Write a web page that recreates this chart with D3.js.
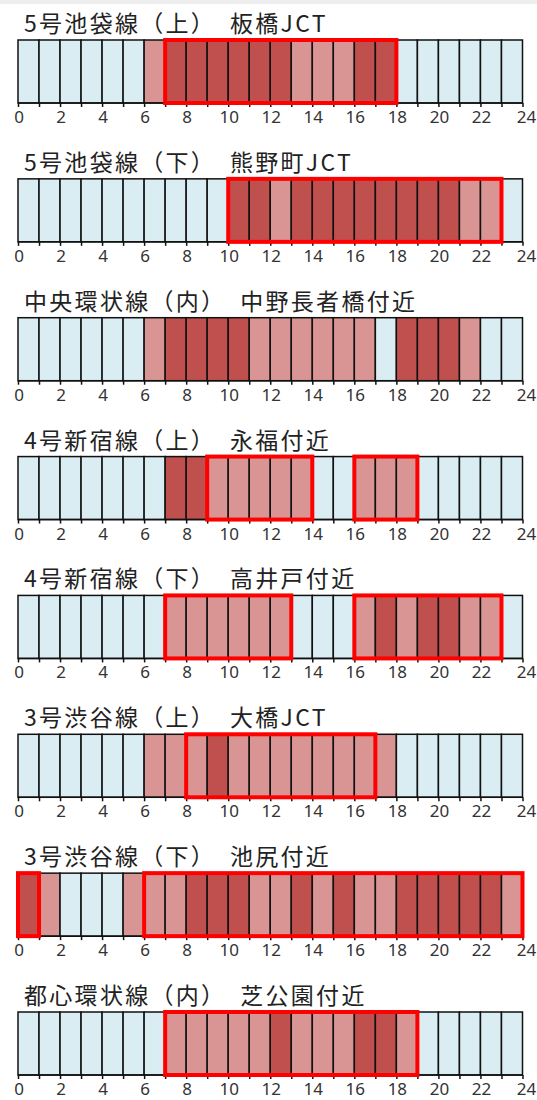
<!DOCTYPE html>
<html><head><meta charset="utf-8">
<script src="https://cdn.jsdelivr.net/npm/d3@7"></script>
<style>body{margin:0;background:#fff;} svg{display:block;}</style>
</head><body>
<script>
const titles = [
  "5号池袋線（上）　板橋JCT",
  "5号池袋線（下）　熊野町JCT",
  "中央環状線（内）　中野長者橋付近",
  "4号新宿線（上）　永福付近",
  "4号新宿線（下）　高井戸付近",
  "3号渋谷線（上）　大橋JCT",
  "3号渋谷線（下）　池尻付近",
  "都心環状線（内）　芝公園付近"
];
// 0 = free, 1 = congested, 2 = heavy congestion (per hour 0..23)
const levels = [
  [0,0,0,0,0,0,1,2,2,2,2,2,2,1,1,1,2,2,0,0,0,0,0,0],
  [0,0,0,0,0,0,0,0,0,0,2,2,1,2,2,2,2,2,2,2,2,1,1,0],
  [0,0,0,0,0,0,1,2,2,2,2,1,1,1,1,1,1,0,2,2,2,1,0,0],
  [0,0,0,0,0,0,0,2,2,1,1,1,1,1,0,0,1,1,1,0,0,0,0,0],
  [0,0,0,0,0,0,0,1,1,1,1,1,1,0,0,0,1,2,1,2,2,1,1,0],
  [0,0,0,0,0,0,1,1,1,2,1,1,1,1,1,1,1,1,0,0,0,0,0,0],
  [2,1,0,0,0,1,1,1,2,2,2,1,1,2,1,2,1,1,2,2,2,2,2,1],
  [0,0,0,0,0,0,0,1,1,1,1,1,2,1,1,1,2,2,1,0,0,0,0,0]
];
// highlighted hour ranges [start, end)
const highlights = [
  [[7,18]],
  [[10,23]],
  [],
  [[9,14],[16,19]],
  [[7,13],[16,23]],
  [[8,17]],
  [[0,1],[6,24]],
  [[7,19]]
];
const hourTicks = d3.range(0, 25);
const labelTicks = d3.range(0, 25, 2);
const levelColors = ["#daedf3", "#d99594", "#bf504d"];

const W = 537, H = 1100;
const svg = d3.select("body").append("svg").attr("width", W).attr("height", H);
svg.append("rect").attr("x",0).attr("y",0).attr("width",W).attr("height",4).attr("fill","#eeeeee");

const x = d3.scaleLinear().domain([0, 24]).range([18, 522.5]);
const panelTop = d3.scaleLinear().domain([0, 7]).range([40, 1012]);
const barH = 63;
const color = d3.scaleOrdinal().domain([0,1,2]).range(levelColors);

titles.forEach((t, i) => {
  const g = svg.append("g").attr("transform", `translate(0,${panelTop(i)})`);
  g.append("text").attr("x", 24).attr("y", -8)
    .attr("font-family", "'Noto Sans CJK JP', sans-serif").attr("font-size", 23)
    .attr("letter-spacing", 2.3)
    .attr("fill", "#222").text(t);
  g.selectAll("rect.cell").data(levels[i]).join("rect").attr("class","cell")
    .attr("x", (d, h) => x(h)).attr("y", 0)
    .attr("width", x(1) - x(0)).attr("height", barH)
    .attr("fill", d => color(d)).attr("stroke", "#111").attr("stroke-width", 1.5);
  const axis = d3.axisBottom(x).tickValues(hourTicks).tickSize(4).tickFormat("");
  const ag = g.append("g").attr("transform", `translate(0,${barH})`).call(axis);
  ag.select(".domain").attr("stroke", "#111").attr("stroke-width", 1.5).attr("d", `M${x(0)},0H${x(24)}`);
  ag.selectAll(".tick line").attr("stroke", "#111").attr("stroke-width", 1.5);
  g.selectAll("text.lbl").data(labelTicks).join("text").attr("class","lbl")
    .attr("x", d => x(d) + (d === 24 ? 4 : 1)).attr("y", barH + 20)
    .attr("text-anchor", "middle")
    .attr("font-family", "'Noto Sans', 'DejaVu Sans', sans-serif").attr("font-size", 17)
    .attr("fill", "#333").text(d => d);
  g.selectAll("rect.hl").data(highlights[i]).join("rect").attr("class","hl")
    .attr("x", d => x(d[0])).attr("y", 0)
    .attr("width", d => x(d[1]) - x(d[0])).attr("height", barH)
    .attr("fill", "none").attr("stroke", "#ff0000").attr("stroke-width", 4);
});
</script>
</body></html>
